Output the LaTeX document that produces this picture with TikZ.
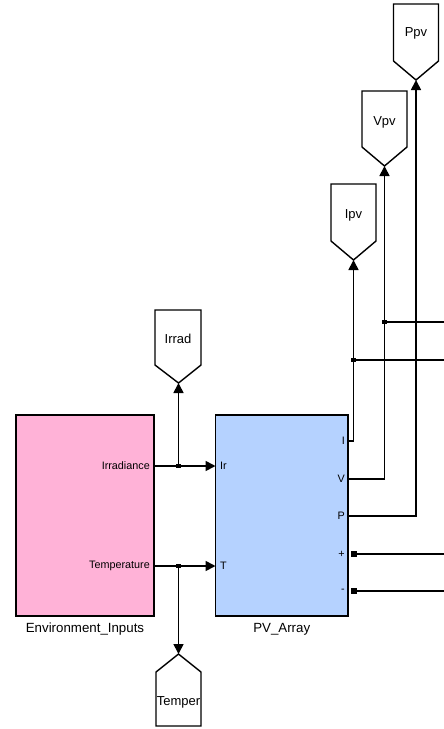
\documentclass[tikz,border=0pt]{standalone}
\usepackage{fontspec}
\setmainfont{Liberation Sans}
\usetikzlibrary{arrows.meta}
\begin{document}
\begin{tikzpicture}[x=1pt,y=-1pt]
\definecolor{envpink}{RGB}{255,178,215}
\definecolor{pvblue}{RGB}{181,210,255}
\tikzset{
  block/.style={draw, line width=1.7pt, inner sep=0pt},
  wire/.style={line width=1.7pt},
  sig/.style={wire, -{Triangle[length=10pt,width=10pt]}},
  tagshape/.style={draw, line width=1.4pt, fill=white},
  jdot/.style={fill, minimum size=4.5pt, inner sep=0pt},
  termsq/.style={fill, minimum size=6.5pt, inner sep=0pt},
  portlbl/.style={font=\fontsize{10.8}{12}\selectfont, inner sep=0pt},
  blklbl/.style={font=\fontsize{13.3}{15}\selectfont},
  taglbl/.style={font=\fontsize{13}{15}\selectfont, inner sep=0pt}
}
\useasboundingbox (0,0) rectangle (444,729);
% blocks
\node[block, fill=envpink, minimum width=138pt, minimum height=201pt] (env) at (85,515.5) {};
\node[blklbl] (envname) at (85,629) {Environment\_Inputs};
\node[block, fill=pvblue, minimum width=132.5pt, minimum height=200.5pt] (pv) at (281.75,515.5) {};
\node[blklbl] (pvname) at (281.75,629) {PV\_Array};
% port labels
\node[portlbl, anchor=east] (lirr) at (150,466) {Irradiance};
\node[portlbl, anchor=east] (ltemp) at (150,566) {Temperature};
\node[portlbl, anchor=west] (lir) at (220,466) {Ir};
\node[portlbl, anchor=west] (lt) at (220,566) {T};
\node[portlbl, anchor=east] (li) at (345,441) {I};
\node[portlbl, anchor=east] (lv) at (345,479) {V};
\node[portlbl, anchor=east] (lp) at (345,516) {P};
\node[portlbl, anchor=east] (lplus) at (345,554) {+};
\node[portlbl, anchor=east] (lminus) at (345,591) {-};
% ports
\coordinate (irrout) at (154,466);
\coordinate (tempout) at (154,566);
\coordinate (irin) at (215.5,466);
\coordinate (tin) at (215.5,566);
\coordinate (iout) at (348,441);
\coordinate (vout) at (348,479);
\coordinate (pout) at (348,516);
% signal tags
\draw[tagshape] (155,310) -- (201,310) -- (201,365) -- (178.5,383) -- (155,365) -- cycle;
\coordinate (irradtip) at (178.5,383);
\node[taglbl] (irrad) at (178,339) {Irrad};
\draw[tagshape] (156,726) -- (201,726) -- (201,672) -- (178.5,654) -- (156,672) -- cycle;
\coordinate (tempertip) at (178.5,654);
\node[taglbl] (temper) at (178.5,702) {Temper};
\draw[tagshape] (331,184) -- (376,184) -- (376,241) -- (353.5,260) -- (331,241) -- cycle;
\coordinate (ipvtip) at (353.5,260);
\node[taglbl] (ipv) at (353.5,215) {Ipv};
\draw[tagshape] (362,91) -- (407,91) -- (407,147) -- (384.5,166) -- (362,147) -- cycle;
\coordinate (vpvtip) at (384.5,166);
\node[taglbl] (vpv) at (384.5,122) {Vpv};
\draw[tagshape] (393.5,4) -- (438.5,4) -- (438.5,61) -- (416,80) -- (393.5,61) -- cycle;
\coordinate (ppvtip) at (416,80);
\node[taglbl] (ppv) at (416,33) {Ppv};
% wires
\node[jdot] (irtap) at (178.5,466) {};
\node[jdot] (ttap) at (178.5,566) {};
\draw[sig] (irrout) -- (irin);
\draw[sig] (tempout) -- (tin);
\draw[sig] (irtap.center) -- (irradtip);
\draw[sig] (ttap.center) -- (tempertip);
\draw[sig] (iout) -| (ipvtip);
\draw[sig] (vout) -| (vpvtip);
\draw[sig] (pout) -| (ppvtip);
\node[jdot] (vtap) at (384.5,322) {};
\node[jdot] (itap) at (353.5,360) {};
\coordinate (vright) at (444,322);
\coordinate (iright) at (444,360);
\draw[wire] (vtap.center) -- (vright);
\draw[wire] (itap.center) -- (iright);
% electrical terminals
\node[termsq] (plus) at (354,554) {};
\node[termsq] (minus) at (354,591) {};
\coordinate (plusright) at (444,554);
\coordinate (minusright) at (444,591);
\draw[wire] (plus) -- (plusright);
\draw[wire] (minus) -- (minusright);
\end{tikzpicture}
\end{document}
